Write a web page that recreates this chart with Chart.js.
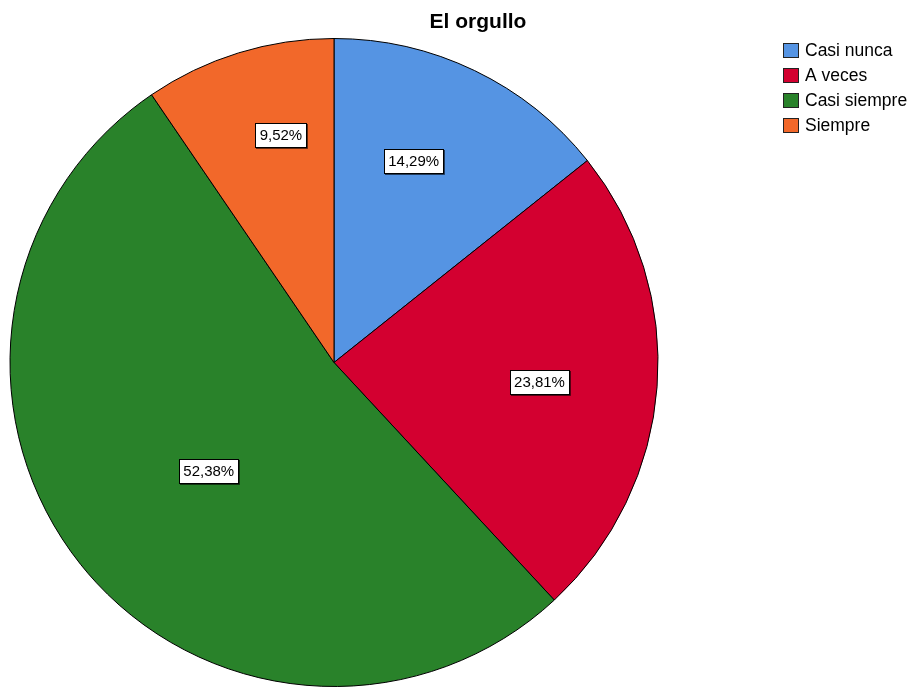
<!DOCTYPE html>
<html>
<head>
<meta charset="utf-8">
<script src="https://cdn.jsdelivr.net/npm/chart.js@4"></script>
<style>
  html, body { margin: 0; padding: 0; background: #fff; }
  #wrap { width: 915px; height: 687px; }
</style>
</head>
<body>
<div id="wrap"><canvas id="chart" width="915" height="687"></canvas></div>
<script>
const chartTitle = 'El orgullo';
const categories = ['Casi nunca', 'A veces', 'Casi siempre', 'Siempre'];
const percents = [14.29, 23.81, 52.38, 9.52];
const colors = ['#5594e3', '#d30030', '#29822a', '#f2682a'];

// where each value label sits: fraction of radius, and angle nudge in degrees
const labelRadius = [0.67, 0.637, 0.511, 0.721];
const labelShift = [-4.2, 1.0, -2.3, 4.0];

const fmt = v => v.toFixed(2).replace('.', ',') + '%';

const decorations = {
  id: 'decorations',
  afterDraw(chart) {
    const ctx = chart.ctx;
    ctx.save();

    // title
    ctx.fillStyle = '#000';
    ctx.font = 'bold 21px "Liberation Sans", Arial, sans-serif';
    ctx.textAlign = 'center';
    ctx.textBaseline = 'alphabetic';
    ctx.fillText(chartTitle, 478, 28);

    // value labels
    const arcs = chart.getDatasetMeta(0).data;
    ctx.font = '15px "Liberation Sans", Arial, sans-serif';
    ctx.textBaseline = 'middle';
    arcs.forEach((arc, i) => {
      const p = arc.getProps(['x', 'y', 'startAngle', 'endAngle', 'outerRadius']);
      const mid = (p.startAngle + p.endAngle) / 2 + labelShift[i] * Math.PI / 180;
      const r = p.outerRadius * labelRadius[i];
      const cx = p.x + Math.cos(mid) * r;
      const cy = p.y + Math.sin(mid) * r;
      const txt = fmt(percents[i]);
      const w = Math.round(ctx.measureText(txt).width + 8);
      const h = 24;
      const bx = Math.round(cx - w / 2), by = Math.round(cy - h / 2);
      ctx.fillStyle = '#fff';
      ctx.fillRect(bx, by, w, h);
      ctx.strokeStyle = '#000';
      ctx.lineWidth = 1;
      ctx.strokeRect(bx + 0.5, by + 0.5, w, h);
      ctx.beginPath();
      ctx.moveTo(bx + w + 1.5, by + 1);
      ctx.lineTo(bx + w + 1.5, by + h + 1.5);
      ctx.lineTo(bx + 1, by + h + 1.5);
      ctx.strokeStyle = 'rgba(0,0,0,0.6)';
      ctx.stroke();
      ctx.fillStyle = '#000';
      ctx.fillText(txt, cx, cy + 1);
    });

    // legend
    ctx.textAlign = 'left';
    ctx.font = '17.5px "Liberation Sans", Arial, sans-serif';
    ctx.lineWidth = 1;
    categories.forEach((c, i) => {
      const y = 50 + i * 25;
      ctx.fillStyle = colors[i];
      ctx.fillRect(783, y - 7, 16, 15);
      ctx.strokeStyle = '#222';
      ctx.strokeRect(783.5, y - 6.5, 15, 14);
      ctx.fillStyle = '#000';
      ctx.fillText(c, 805, y + 1);
    });
    ctx.restore();
  }
};

new Chart(document.getElementById('chart'), {
  type: 'pie',
  data: {
    labels: categories,
    datasets: [{
      data: percents,
      backgroundColor: colors,
      borderColor: '#000',
      borderWidth: 1
    }]
  },
  options: {
    responsive: false,
    animation: false,
    layout: { padding: { left: 9, right: 256, top: 38, bottom: 0 } },
    plugins: {
      legend: { display: false },
      tooltip: { enabled: false },
      title: { display: false }
    }
  },
  plugins: [decorations]
});
</script>
</body>
</html>
